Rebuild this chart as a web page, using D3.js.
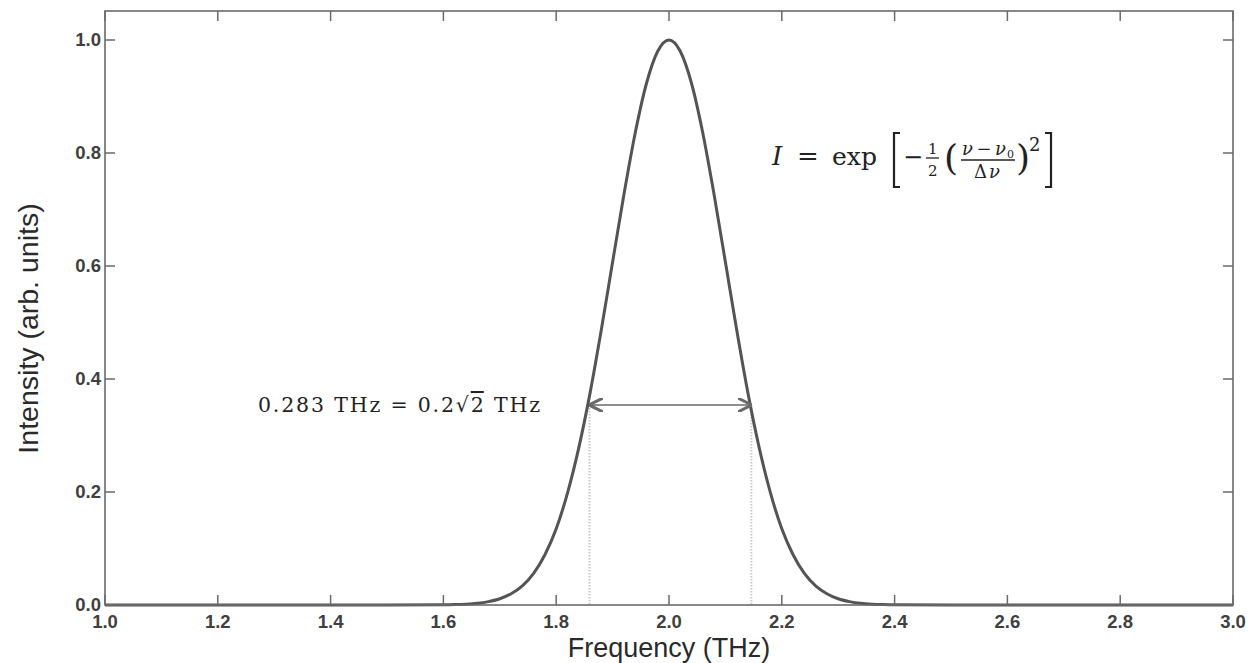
<!DOCTYPE html>
<html>
<head>
<meta charset="utf-8">
<script src="https://cdn.jsdelivr.net/npm/d3@7"></script>
<style>
  body { margin: 0; background: #fff; }
  svg { display: block; }
</style>
</head>
<body>
<svg></svg>
<script>
// curve points (frequency in THz, intensity)
const freq = [1.0, 1.5, 1.6, 1.62, 1.64, 1.66, 1.68, 1.70, 1.72, 1.74, 1.76, 1.78, 1.80, 1.82, 1.84, 1.86, 1.88, 1.90, 1.92, 1.94, 1.96, 1.98, 2.0,
              2.02, 2.04, 2.06, 2.08, 2.10, 2.12, 2.14, 2.16, 2.18, 2.20, 2.22, 2.24, 2.26, 2.28, 2.30, 2.32, 2.34, 2.36, 2.38, 2.40, 2.5, 3.0];
const intensity = [0, 0, 0.0003, 0.0007, 0.0015, 0.003, 0.006, 0.011, 0.020, 0.034, 0.056, 0.089, 0.135, 0.198, 0.278, 0.375, 0.487, 0.607, 0.726, 0.835, 0.923, 0.980, 1.0,
                   0.980, 0.923, 0.835, 0.726, 0.607, 0.487, 0.375, 0.278, 0.198, 0.135, 0.089, 0.056, 0.034, 0.020, 0.011, 0.006, 0.003, 0.0015, 0.0007, 0.0003, 0, 0];
const xTicks = [1.0, 1.2, 1.4, 1.6, 1.8, 2.0, 2.2, 2.4, 2.6, 2.8, 3.0];
const yTicks = [0.0, 0.2, 0.4, 0.6, 0.8, 1.0];
const widthMarks = [1.859, 2.146];   // dotted guides / arrow ends
const arrowLevel = 0.354;

const width = 1256, height = 663;
const margin = { top: 11, right: 23, bottom: 58, left: 105 };
const innerW = width - margin.left - margin.right;
const innerH = height - margin.top - margin.bottom;

const x = d3.scaleLinear().domain([1, 3]).range([0, innerW]);
// 1.0 sits below the box top
const y = d3.scaleLinear().domain([0, 1]).range([innerH, 40 - margin.top]);

const svg = d3.select("svg").attr("width", width).attr("height", height);
const g = svg.append("g").attr("transform", `translate(${margin.left},${margin.top})`);

const axisCol = "#6a6a6a";
const tickFont = "Liberation Sans, Arial, sans-serif";

// dotted guides
g.selectAll("line.guide").data(widthMarks).enter().append("line")
  .attr("x1", d => x(d)).attr("x2", d => x(d))
  .attr("y1", y(arrowLevel)).attr("y2", y(0))
  .attr("stroke", "#c8c8c8").attr("stroke-width", 2).attr("stroke-dasharray", "1.5,1.5");

// curve
const pts = freq.map((f, i) => ({ f, v: intensity[i] }));
g.append("path").datum(pts)
  .attr("fill", "none").attr("stroke", "#545454").attr("stroke-width", 3)
  .attr("d", d3.line().x(d => x(d.f)).y(d => y(d.v)).curve(d3.curveMonotoneX));

// box
g.append("rect").attr("width", innerW).attr("height", innerH)
  .attr("fill", "none").attr("stroke", axisCol).attr("stroke-width", 1.6);

// ticks (inward on all sides)
const tl = 10;
g.selectAll("line.xb").data(xTicks).enter().append("line")
  .attr("x1", d => x(d)).attr("x2", d => x(d)).attr("y1", innerH).attr("y2", innerH - tl)
  .attr("stroke", axisCol).attr("stroke-width", 1.5);
g.selectAll("line.xt").data(xTicks).enter().append("line")
  .attr("x1", d => x(d)).attr("x2", d => x(d)).attr("y1", 0).attr("y2", tl)
  .attr("stroke", axisCol).attr("stroke-width", 1.5);
g.selectAll("line.yl").data(yTicks).enter().append("line")
  .attr("x1", 0).attr("x2", tl).attr("y1", d => y(d)).attr("y2", d => y(d))
  .attr("stroke", axisCol).attr("stroke-width", 1.5);
g.selectAll("line.yr").data(yTicks).enter().append("line")
  .attr("x1", innerW).attr("x2", innerW - tl).attr("y1", d => y(d)).attr("y2", d => y(d))
  .attr("stroke", axisCol).attr("stroke-width", 1.5);

// tick labels
g.selectAll("text.xl").data(xTicks).enter().append("text")
  .attr("x", d => x(d)).attr("y", innerH + 23)
  .attr("text-anchor", "middle").attr("font-family", tickFont).attr("font-size", 18.5)
  .attr("font-weight", "bold").attr("fill", "#404040")
  .text(d => d3.format(".1f")(d));
g.selectAll("text.yl").data(yTicks).enter().append("text")
  .attr("x", -4).attr("y", d => y(d) + 6)
  .attr("text-anchor", "end").attr("font-family", tickFont).attr("font-size", 18.5)
  .attr("font-weight", "bold").attr("fill", "#404040")
  .text(d => d3.format(".1f")(d));

// axis titles
svg.append("text").attr("x", margin.left + x(2)).attr("y", 656.5)
  .attr("text-anchor", "middle").attr("font-family", tickFont).attr("font-size", 27)
  .attr("fill", "#2a2a2a").text("Frequency (THz)");
svg.append("text").attr("transform", `translate(38,${margin.top + y(0.5) + 6}) rotate(-90)`)
  .attr("text-anchor", "middle").attr("font-family", tickFont).attr("font-size", 28.5)
  .attr("fill", "#2a2a2a").text("Intensity (arb. units)");

// width arrow
const defs = svg.append("defs");
defs.append("marker").attr("id", "ah").attr("viewBox", "0 0 10 10")
  .attr("refX", 9).attr("refY", 5).attr("markerWidth", 14).attr("markerHeight", 14)
  .attr("orient", "auto-start-reverse").attr("markerUnits", "userSpaceOnUse")
  .append("path").attr("d", "M0,0 L10,5 L0,10").attr("fill", "none")
  .attr("stroke", "#6a6a6a").attr("stroke-width", 2.2);
g.append("line")
  .attr("x1", x(widthMarks[0]) + 1).attr("x2", x(widthMarks[1]) - 1)
  .attr("y1", y(arrowLevel)).attr("y2", y(arrowLevel))
  .attr("stroke", "#6a6a6a").attr("stroke-width", 1.6)
  .attr("marker-start", "url(#ah)").attr("marker-end", "url(#ah)");

// width label
const serif = "DejaVu Serif, Liberation Serif, serif";
const lab = svg.append("text").attr("x", 258).attr("y", 412)
  .attr("font-family", serif).attr("font-size", 20.5).attr("fill", "#222")
  .attr("textLength", 282).attr("lengthAdjust", "spacing");
lab.append("tspan").text("0.283 THz = 0.2");
lab.append("tspan").text("\u221A");
lab.append("tspan").attr("text-decoration", "overline").text("2");
lab.append("tspan").text(" THz");

// formula
const fy = 165;
const fg = svg.append("g").attr("font-family", serif).attr("fill", "#222");
function ftext(xp, yp, size, str, italic) {
  return fg.append("text").attr("x", xp).attr("y", yp).attr("font-size", size)
    .attr("font-style", italic ? "italic" : null).text(str);
}
ftext(772, fy, 26, "I", true);
ftext(797, fy, 26, "=");
ftext(832, fy, 25, "exp").attr("textLength", 45).attr("lengthAdjust", "spacingAndGlyphs");
// left bracket
fg.append("path").attr("d", `M900,133 h-6 v54 h6`)
  .attr("fill", "none").attr("stroke", "#222").attr("stroke-width", 2.2);
ftext(903, fy, 24, "\u2212");
// 1/2
ftext(928, fy - 11, 15, "1");
fg.append("line").attr("x1", 926).attr("x2", 939).attr("y1", fy - 7).attr("y2", fy - 7)
  .attr("stroke", "#222").attr("stroke-width", 1.3);
ftext(928, fy + 11, 15, "2");
// parentheses
ftext(944, fy + 5, 36, "(");
ftext(962, fy - 10, 18, "\u03BD\u2212\u03BD", true).attr("textLength", 44).attr("lengthAdjust", "spacing");
ftext(1007, fy - 7, 11, "0");
fg.append("line").attr("x1", 961).attr("x2", 1015).attr("y1", fy - 5).attr("y2", fy - 5)
  .attr("stroke", "#222").attr("stroke-width", 1.3);
ftext(974, fy + 13, 18, "\u0394");
ftext(989, fy + 13, 18, "\u03BD", true);
ftext(1016, fy + 5, 36, ")");
ftext(1029, fy - 14, 18, "2");
// right bracket
fg.append("path").attr("d", `M1045,133 h6 v54 h-6`)
  .attr("fill", "none").attr("stroke", "#222").attr("stroke-width", 2.2);
</script>
</body>
</html>
